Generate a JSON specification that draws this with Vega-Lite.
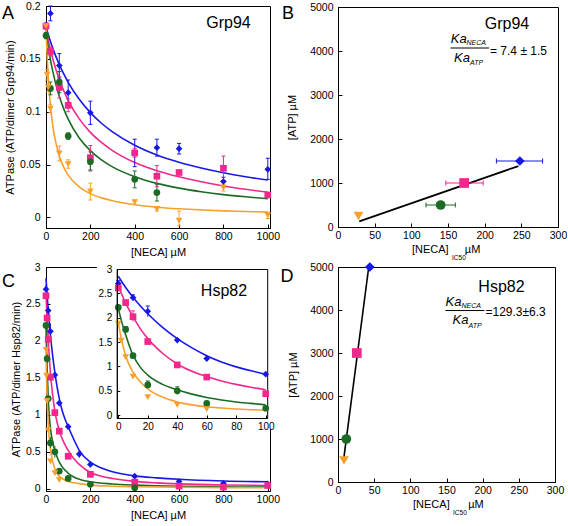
{
 "$schema": "https://vega.github.io/schema/vega-lite/v6.json",
 "background": "white",
 "padding": {"left": 2, "top": 1, "right": 0, "bottom": 0},
 "config": {
  "font": "Liberation Sans",
  "view": {"stroke": null},
  "range": {"category": ["#1717e8", "#f0288c", "#1c6b24", "#f7a02c"], "symbol": ["diamond", "square", "circle", "triangle-down"]},
  "axis": {"labelFont": "Liberation Sans", "titleFont": "Liberation Sans", "labelFontSize": 10.5, "titleFontSize": 11, "titleFontWeight": "normal", "labelColor": "#000", "titleColor": "#000", "domainColor": "#000", "tickColor": "#000", "grid": false, "tickSize": -4, "labelFlush": false, "labelOverlap": false, "domainWidth": 1, "tickWidth": 1}
 },
 "datasets": {
  "gA_pts": [
   {"s":"S1","x":0,"y":0.182},{"s":"S1","x":20,"y":0.193,"lo":0.186,"hi":0.2},{"s":"S1","x":60,"y":0.1436,"lo":0.132,"hi":0.155},{"s":"S1","x":100,"y":0.118,"lo":0.106,"hi":0.13},{"s":"S1","x":200,"y":0.099,"lo":0.088,"hi":0.11},{"s":"S1","x":400,"y":0.061,"lo":0.048,"hi":0.074},{"s":"S1","x":500,"y":0.066,"lo":0.058,"hi":0.074},{"s":"S1","x":600,"y":0.065,"lo":0.06,"hi":0.07},{"s":"S1","x":800,"y":0.034,"lo":0.03,"hi":0.038},{"s":"S1","x":1000,"y":0.0455,"lo":0.036,"hi":0.056},
   {"s":"S2","x":0,"y":0.181,"lo":0.178,"hi":0.184},{"s":"S2","x":20,"y":0.157,"lo":0.153,"hi":0.161},{"s":"S2","x":60,"y":0.123,"lo":0.113,"hi":0.133},{"s":"S2","x":100,"y":0.106,"lo":0.1,"hi":0.112},{"s":"S2","x":200,"y":0.0565,"lo":0.045,"hi":0.068},{"s":"S2","x":400,"y":0.061,"lo":0.057,"hi":0.065},{"s":"S2","x":500,"y":0.039,"lo":0.029,"hi":0.049},{"s":"S2","x":600,"y":0.0425,"lo":0.0405,"hi":0.0445},{"s":"S2","x":800,"y":0.0465,"lo":0.035,"hi":0.058},{"s":"S2","x":1000,"y":0.0213},
   {"s":"S3","x":0,"y":0.172,"lo":0.169,"hi":0.175},{"s":"S3","x":20,"y":0.122,"lo":0.116,"hi":0.128},{"s":"S3","x":60,"y":0.128,"lo":0.118,"hi":0.138},{"s":"S3","x":100,"y":0.077,"lo":0.074,"hi":0.08},{"s":"S3","x":200,"y":0.0527,"lo":0.044,"hi":0.062},{"s":"S3","x":400,"y":0.036,"lo":0.028,"hi":0.044},{"s":"S3","x":500,"y":0.0235,"lo":0.0155,"hi":0.0315},
   {"s":"S4","x":0,"y":0.181},{"s":"S4","x":5,"y":0.135,"lo":0.13,"hi":0.14},{"s":"S4","x":10,"y":0.123,"lo":0.119,"hi":0.127},{"s":"S4","x":20,"y":0.103,"lo":0.099,"hi":0.107},{"s":"S4","x":60,"y":0.0605,"lo":0.0535,"hi":0.0675},{"s":"S4","x":100,"y":0.0505,"lo":0.0465,"hi":0.0545},{"s":"S4","x":200,"y":0.0245,"lo":0.0165,"hi":0.0325},{"s":"S4","x":400,"y":0.0144,"lo":0.0124,"hi":0.0164},{"s":"S4","x":500,"y":0.008,"lo":0.006,"hi":0.01},{"s":"S4","x":600,"y":-0.003,"lo":-0.008,"hi":0.006},{"s":"S4","x":800,"y":0.028,"lo":0.025,"hi":0.031},{"s":"S4","x":1000,"y":0.002,"lo":-0.001,"hi":0.005}
  ],
  "gA_fit": [
   {"s":"S1","x":0,"y":0.18},{"s":"S1","x":10,"y":0.173},{"s":"S1","x":20,"y":0.1664},{"s":"S1","x":30,"y":0.1604},{"s":"S1","x":40,"y":0.1547},{"s":"S1","x":60,"y":0.1446},{"s":"S1","x":80,"y":0.1357},{"s":"S1","x":100,"y":0.1278},{"s":"S1","x":150,"y":0.1117},{"s":"S1","x":200,"y":0.0991},{"s":"S1","x":250,"y":0.0891},{"s":"S1","x":300,"y":0.081},{"s":"S1","x":400,"y":0.0683},{"s":"S1","x":500,"y":0.0591},{"s":"S1","x":600,"y":0.0522},{"s":"S1","x":700,"y":0.0467},{"s":"S1","x":800,"y":0.0422},{"s":"S1","x":900,"y":0.0385},{"s":"S1","x":1000,"y":0.0354},
   {"s":"S2","x":0,"y":0.178},{"s":"S2","x":10,"y":0.1678},{"s":"S2","x":20,"y":0.1588},{"s":"S2","x":30,"y":0.1506},{"s":"S2","x":40,"y":0.1433},{"s":"S2","x":60,"y":0.1305},{"s":"S2","x":80,"y":0.1198},{"s":"S2","x":100,"y":0.1108},{"s":"S2","x":150,"y":0.0932},{"s":"S2","x":200,"y":0.0805},{"s":"S2","x":250,"y":0.0709},{"s":"S2","x":300,"y":0.0632},{"s":"S2","x":400,"y":0.0519},{"s":"S2","x":500,"y":0.0442},{"s":"S2","x":600,"y":0.0384},{"s":"S2","x":700,"y":0.0337},{"s":"S2","x":800,"y":0.0298},{"s":"S2","x":900,"y":0.0266},{"s":"S2","x":1000,"y":0.0238},
   {"s":"S3","x":0,"y":0.176},{"s":"S3","x":10,"y":0.1616},{"s":"S3","x":20,"y":0.1493},{"s":"S3","x":30,"y":0.1388},{"s":"S3","x":40,"y":0.1297},{"s":"S3","x":60,"y":0.1146},{"s":"S3","x":80,"y":0.1027},{"s":"S3","x":100,"y":0.093},{"s":"S3","x":150,"y":0.0752},{"s":"S3","x":200,"y":0.0632},{"s":"S3","x":250,"y":0.0545},{"s":"S3","x":300,"y":0.0478},{"s":"S3","x":400,"y":0.0385},{"s":"S3","x":500,"y":0.0322},{"s":"S3","x":600,"y":0.0277},{"s":"S3","x":700,"y":0.0243},{"s":"S3","x":800,"y":0.0216},{"s":"S3","x":900,"y":0.0195},{"s":"S3","x":1000,"y":0.0177},
   {"s":"S4","x":0,"y":0.18},{"s":"S4","x":5,"y":0.153},{"s":"S4","x":10,"y":0.1334},{"s":"S4","x":20,"y":0.1059},{"s":"S4","x":30,"y":0.0878},{"s":"S4","x":40,"y":0.075},{"s":"S4","x":60,"y":0.0581},{"s":"S4","x":80,"y":0.0474},{"s":"S4","x":100,"y":0.04},{"s":"S4","x":150,"y":0.0289},{"s":"S4","x":200,"y":0.0225},{"s":"S4","x":250,"y":0.0185},{"s":"S4","x":300,"y":0.0157},{"s":"S4","x":400,"y":0.012},{"s":"S4","x":500,"y":0.0097},{"s":"S4","x":600,"y":0.0082},{"s":"S4","x":700,"y":0.0071},{"s":"S4","x":800,"y":0.0062},{"s":"S4","x":900,"y":0.0056},{"s":"S4","x":1000,"y":0.005}
  ],
  "cC_pts": [
   {"s":"S1","x":0,"y":2.7,"lo":2.64,"hi":2.76},{"s":"S1","x":10,"y":2.41,"lo":2.35,"hi":2.47},{"s":"S1","x":20,"y":2.13,"lo":2.02,"hi":2.24},{"s":"S1","x":40,"y":1.54,"lo":1.5,"hi":1.58},{"s":"S1","x":60,"y":1.16,"lo":1.12,"hi":1.2},{"s":"S1","x":100,"y":0.84,"lo":0.82,"hi":0.86},{"s":"S1","x":150,"y":0.47,"lo":0.42,"hi":0.52},{"s":"S1","x":200,"y":0.33,"lo":0.31,"hi":0.35},{"s":"S1","x":400,"y":0.17,"lo":0.15,"hi":0.19},{"s":"S1","x":600,"y":0.1,"lo":0.08,"hi":0.12},{"s":"S1","x":800,"y":0.075,"lo":0.06,"hi":0.09},{"s":"S1","x":1000,"y":0.065,"lo":0.05,"hi":0.08},
   {"s":"S2","x":0,"y":2.61,"lo":2.58,"hi":2.64},{"s":"S2","x":5,"y":2.31,"lo":2.27,"hi":2.35},{"s":"S2","x":10,"y":2.02,"lo":1.92,"hi":2.14},{"s":"S2","x":20,"y":1.51,"lo":1.46,"hi":1.56},{"s":"S2","x":40,"y":1.03,"lo":1.0,"hi":1.06},{"s":"S2","x":60,"y":0.78,"lo":0.76,"hi":0.8},{"s":"S2","x":100,"y":0.44,"lo":0.42,"hi":0.46},{"s":"S2","x":200,"y":0.195,"lo":0.18,"hi":0.21},{"s":"S2","x":400,"y":0.09,"lo":0.08,"hi":0.1},{"s":"S2","x":600,"y":0.036},{"s":"S2","x":800,"y":0.022},{"s":"S2","x":1000,"y":0.045},
   {"s":"S3","x":0,"y":2.21,"lo":2.17,"hi":2.25},{"s":"S3","x":5,"y":1.76,"lo":1.7,"hi":1.82},{"s":"S3","x":10,"y":1.22,"lo":1.18,"hi":1.26},{"s":"S3","x":20,"y":0.62,"lo":0.55,"hi":0.7},{"s":"S3","x":40,"y":0.5,"lo":0.42,"hi":0.58},{"s":"S3","x":60,"y":0.24,"lo":0.22,"hi":0.26},{"s":"S3","x":100,"y":0.14,"lo":0.13,"hi":0.15},{"s":"S3","x":200,"y":0.06,"lo":0.05,"hi":0.07},{"s":"S3","x":400,"y":0.015},
   {"s":"S4","x":0,"y":1.88,"lo":1.85,"hi":1.91},{"s":"S4","x":2,"y":1.53,"lo":1.5,"hi":1.56},{"s":"S4","x":5,"y":1.19,"lo":1.16,"hi":1.22},{"s":"S4","x":10,"y":0.79,"lo":0.76,"hi":0.82},{"s":"S4","x":20,"y":0.37,"lo":0.34,"hi":0.4},{"s":"S4","x":40,"y":0.21,"lo":0.19,"hi":0.23},{"s":"S4","x":60,"y":0.12,"lo":0.1,"hi":0.14}
  ],
  "cC_fit": [
   {"s":"S1","x":0,"y":2.85},{"s":"S1","x":5,"y":2.62},{"s":"S1","x":10,"y":2.42},{"s":"S1","x":15,"y":2.24},{"s":"S1","x":20,"y":2.08},{"s":"S1","x":30,"y":1.8},{"s":"S1","x":40,"y":1.57},{"s":"S1","x":50,"y":1.38},{"s":"S1","x":60,"y":1.22},{"s":"S1","x":70,"y":1.09},{"s":"S1","x":80,"y":0.99},{"s":"S1","x":90,"y":0.91},{"s":"S1","x":100,"y":0.84},{"s":"S1","x":125,"y":0.67},{"s":"S1","x":150,"y":0.52},{"s":"S1","x":200,"y":0.36},{"s":"S1","x":250,"y":0.28},{"s":"S1","x":300,"y":0.23},{"s":"S1","x":400,"y":0.175},{"s":"S1","x":500,"y":0.148},{"s":"S1","x":600,"y":0.128},{"s":"S1","x":800,"y":0.105},{"s":"S1","x":1000,"y":0.095},
   {"s":"S2","x":0,"y":2.65},{"s":"S2","x":5,"y":2.3},{"s":"S2","x":10,"y":2.02},{"s":"S2","x":15,"y":1.77},{"s":"S2","x":20,"y":1.57},{"s":"S2","x":30,"y":1.27},{"s":"S2","x":40,"y":1.05},{"s":"S2","x":50,"y":0.9},{"s":"S2","x":60,"y":0.79},{"s":"S2","x":70,"y":0.7},{"s":"S2","x":80,"y":0.63},{"s":"S2","x":90,"y":0.57},{"s":"S2","x":100,"y":0.52},{"s":"S2","x":125,"y":0.41},{"s":"S2","x":150,"y":0.33},{"s":"S2","x":200,"y":0.22},{"s":"S2","x":250,"y":0.17},{"s":"S2","x":300,"y":0.14},{"s":"S2","x":400,"y":0.1},{"s":"S2","x":500,"y":0.08},{"s":"S2","x":600,"y":0.067},{"s":"S2","x":800,"y":0.052},{"s":"S2","x":1000,"y":0.045},
   {"s":"S3","x":0,"y":2.2},{"s":"S3","x":2,"y":1.95},{"s":"S3","x":5,"y":1.65},{"s":"S3","x":10,"y":1.23},{"s":"S3","x":15,"y":0.98},{"s":"S3","x":20,"y":0.82},{"s":"S3","x":30,"y":0.63},{"s":"S3","x":40,"y":0.52},{"s":"S3","x":50,"y":0.43},{"s":"S3","x":60,"y":0.36},{"s":"S3","x":70,"y":0.31},{"s":"S3","x":80,"y":0.27},{"s":"S3","x":90,"y":0.24},{"s":"S3","x":100,"y":0.21},{"s":"S3","x":125,"y":0.16},{"s":"S3","x":150,"y":0.13},{"s":"S3","x":200,"y":0.095},{"s":"S3","x":300,"y":0.065},{"s":"S3","x":400,"y":0.05},{"s":"S3","x":500,"y":0.04},{"s":"S3","x":600,"y":0.035},{"s":"S3","x":800,"y":0.027},{"s":"S3","x":1000,"y":0.022},
   {"s":"S4","x":0,"y":1.9},{"s":"S4","x":2,"y":1.58},{"s":"S4","x":5,"y":1.22},{"s":"S4","x":10,"y":0.88},{"s":"S4","x":15,"y":0.68},{"s":"S4","x":20,"y":0.54},{"s":"S4","x":30,"y":0.37},{"s":"S4","x":40,"y":0.27},{"s":"S4","x":50,"y":0.21},{"s":"S4","x":60,"y":0.17},{"s":"S4","x":70,"y":0.145},{"s":"S4","x":80,"y":0.125},{"s":"S4","x":90,"y":0.11},{"s":"S4","x":100,"y":0.1},{"s":"S4","x":150,"y":0.07},{"s":"S4","x":200,"y":0.05},{"s":"S4","x":300,"y":0.035},{"s":"S4","x":400,"y":0.028},{"s":"S4","x":600,"y":0.02},{"s":"S4","x":800,"y":0.016},{"s":"S4","x":1000,"y":0.013}
  ],
  "b_pts": [
   {"s":"S1","x":248,"y":1500,"lo":216,"hi":279},{"s":"S2","x":172,"y":1000,"lo":147,"hi":198},{"s":"S3","x":140,"y":500,"lo":120,"hi":160},{"s":"S4","x":28,"y":250}
  ],
  "b_line": [{"x":29,"y":130},{"x":246,"y":1385}],
  "d_pts": [
   {"s":"S1","x":44,"y":5000},{"s":"S2","x":26,"y":3000},{"s":"S3","x":11.5,"y":1000},{"s":"S4","x":8.3,"y":500}
  ],
  "d_line": [{"x":7.8,"y":520},{"x":42.5,"y":5000}]
 },
 "columns": 2,
 "spacing": {"row": 39, "column": 68},
 "bounds": "flush",
 "center": true,
 "concat": [
  {
   "width": 224, "height": 222,
   "layer": [
    {"data": {"values": [{"x": 0, "x2": 1010, "y": -0.01, "y2": 0.2}]}, "mark": {"type": "rect", "fill": "transparent", "stroke": "black", "strokeWidth": 1, "xOffset": 0.5, "x2Offset": 0.5, "yOffset": 0.5, "y2Offset": 0.5},
     "encoding": {
      "x": {"field": "x", "type": "quantitative", "scale": {"domain": [0, 1010], "nice": false, "zero": false}, "axis": {"orient": "bottom", "values": [0, 200, 400, 600, 800, 1000], "format": "~r", "title": "[NECA] µM", "labelPadding": 7, "titlePadding": 5}},
      "x2": {"field": "x2"},
      "y": {"field": "y", "type": "quantitative", "scale": {"domain": [-0.01, 0.2], "nice": false, "zero": false}, "axis": {"orient": "left", "values": [0, 0.05, 0.1, 0.15, 0.2], "format": "~r", "title": "ATPase (ATP/dimer Grp94/min)", "labelPadding": 10, "titlePadding": 4}},
      "y2": {"field": "y2"}
     }},
    {"data": {"name": "gA_fit"}, "mark": {"type": "line", "interpolate": "monotone", "strokeWidth": 1.6},
     "encoding": {
      "x": {"field": "x", "type": "quantitative", "scale": {"domain": [0, 1010], "nice": false, "zero": false}, "axis": null},
      "y": {"field": "y", "type": "quantitative", "scale": {"domain": [-0.01, 0.2], "nice": false, "zero": false}, "axis": null},
      "color": {"field": "s", "type": "nominal", "legend": null}
     }},
    {"data": {"name": "gA_pts"}, "transform": [{"filter": "datum.hi > datum.lo"}], "mark": {"type": "rule", "strokeWidth": 1},
     "encoding": {
      "x": {"field": "x", "type": "quantitative", "scale": {"domain": [0, 1010], "nice": false, "zero": false}, "axis": null},
      "y": {"field": "lo", "type": "quantitative", "scale": {"domain": [-0.01, 0.2], "nice": false, "zero": false}, "axis": null},
      "y2": {"field": "hi"},
      "color": {"field": "s", "type": "nominal", "legend": null}
     }},
    {"data": {"name": "gA_pts"}, "transform": [{"filter": "datum.hi > datum.lo"}], "mark": {"type": "tick", "orient": "horizontal", "size": 4, "thickness": 1, "opacity": 1},
     "encoding": {
      "x": {"field": "x", "type": "quantitative", "scale": {"domain": [0, 1010], "nice": false, "zero": false}, "axis": null},
      "y": {"field": "lo", "type": "quantitative", "scale": {"domain": [-0.01, 0.2], "nice": false, "zero": false}, "axis": null},
      "color": {"field": "s", "type": "nominal", "legend": null}
     }},
    {"data": {"name": "gA_pts"}, "transform": [{"filter": "datum.hi > datum.lo"}], "mark": {"type": "tick", "orient": "horizontal", "size": 4, "thickness": 1, "opacity": 1},
     "encoding": {
      "x": {"field": "x", "type": "quantitative", "scale": {"domain": [0, 1010], "nice": false, "zero": false}, "axis": null},
      "y": {"field": "hi", "type": "quantitative", "scale": {"domain": [-0.01, 0.2], "nice": false, "zero": false}, "axis": null},
      "color": {"field": "s", "type": "nominal", "legend": null}
     }},
    {"data": {"name": "gA_pts"}, "mark": {"type": "point", "filled": true, "opacity": 1, "size": 45},
     "encoding": {
      "x": {"field": "x", "type": "quantitative", "scale": {"domain": [0, 1010], "nice": false, "zero": false}, "axis": null},
      "y": {"field": "y", "type": "quantitative", "scale": {"domain": [-0.01, 0.2], "nice": false, "zero": false}, "axis": null},
      "color": {"field": "s", "type": "nominal", "legend": null},
      "shape": {"field": "s", "type": "nominal", "legend": null}
     }},
    {"data": {"values": [{"t": "A", "x": -198, "y": 0.1877}]}, "mark": {"type": "text", "fontSize": 18, "align": "left", "baseline": "alphabetic"},
     "encoding": {"text": {"field": "t"}, "x": {"field": "x", "type": "quantitative", "scale": {"domain": [0, 1010], "nice": false, "zero": false}, "axis": null}, "y": {"field": "y", "type": "quantitative", "scale": {"domain": [-0.01, 0.2], "nice": false, "zero": false}, "axis": null}}},
    {"data": {"values": [{"t": "Grp94", "x": 823, "y": 0.179}]}, "mark": {"type": "text", "fontSize": 16, "align": "center", "baseline": "alphabetic"},
     "encoding": {"text": {"field": "t"}, "x": {"field": "x", "type": "quantitative", "scale": {"domain": [0, 1010], "nice": false, "zero": false}, "axis": null}, "y": {"field": "y", "type": "quantitative", "scale": {"domain": [-0.01, 0.2], "nice": false, "zero": false}, "axis": null}}}
   ],
   "resolve": {"scale": {"x": "independent", "y": "independent"}}
  },
  {
   "width": 220, "height": 220,
   "layer": [
    {"data": {"values": [{"x": 0, "x2": 300, "y": 0, "y2": 5000}]}, "mark": {"type": "rect", "fill": "transparent", "stroke": "black", "strokeWidth": 1, "xOffset": 0.5, "x2Offset": 0.5, "yOffset": 0.5, "y2Offset": 0.5},
     "encoding": {
      "x": {"field": "x", "type": "quantitative", "scale": {"domain": [0, 300], "nice": false, "zero": false}, "axis": {"orient": "bottom", "values": [0, 50, 100, 150, 200, 250, 300], "format": "~r", "title": null, "labelPadding": 7}},
      "x2": {"field": "x2"},
      "y": {"field": "y", "type": "quantitative", "scale": {"domain": [0, 5000], "nice": false, "zero": false}, "axis": {"orient": "left", "values": [0, 1000, 2000, 3000, 4000, 5000], "format": "~r", "title": "[ATP]  µM", "labelPadding": 9, "titlePadding": 12}},
      "y2": {"field": "y2"}
     }},
    {"data": {"name": "b_line"}, "mark": {"type": "line", "color": "black", "strokeWidth": 1.8},
     "encoding": {
      "x": {"field": "x", "type": "quantitative", "scale": {"domain": [0, 300], "nice": false, "zero": false}, "axis": null},
      "y": {"field": "y", "type": "quantitative", "scale": {"domain": [0, 5000], "nice": false, "zero": false}, "axis": null}
     }},
    {"data": {"name": "b_pts"}, "transform": [{"filter": "datum.hi > datum.lo"}], "mark": {"type": "rule", "strokeWidth": 1},
     "encoding": {
      "y": {"field": "y", "type": "quantitative", "scale": {"domain": [0, 5000], "nice": false, "zero": false}, "axis": null},
      "x": {"field": "lo", "type": "quantitative", "scale": {"domain": [0, 300], "nice": false, "zero": false}, "axis": null},
      "x2": {"field": "hi"},
      "color": {"field": "s", "type": "nominal", "legend": null}
     }},
    {"data": {"name": "b_pts"}, "transform": [{"filter": "datum.hi > datum.lo"}], "mark": {"type": "tick", "orient": "vertical", "size": 5, "thickness": 1, "opacity": 1},
     "encoding": {
      "y": {"field": "y", "type": "quantitative", "scale": {"domain": [0, 5000], "nice": false, "zero": false}, "axis": null},
      "x": {"field": "lo", "type": "quantitative", "scale": {"domain": [0, 300], "nice": false, "zero": false}, "axis": null},
      "color": {"field": "s", "type": "nominal", "legend": null}
     }},
    {"data": {"name": "b_pts"}, "transform": [{"filter": "datum.hi > datum.lo"}], "mark": {"type": "tick", "orient": "vertical", "size": 5, "thickness": 1, "opacity": 1},
     "encoding": {
      "y": {"field": "y", "type": "quantitative", "scale": {"domain": [0, 5000], "nice": false, "zero": false}, "axis": null},
      "x": {"field": "hi", "type": "quantitative", "scale": {"domain": [0, 300], "nice": false, "zero": false}, "axis": null},
      "color": {"field": "s", "type": "nominal", "legend": null}
     }},
    {"data": {"name": "b_pts"}, "mark": {"type": "point", "filled": true, "opacity": 1, "size": 95},
     "encoding": {
      "x": {"field": "x", "type": "quantitative", "scale": {"domain": [0, 300], "nice": false, "zero": false}, "axis": null},
      "y": {"field": "y", "type": "quantitative", "scale": {"domain": [0, 5000], "nice": false, "zero": false}, "axis": null},
      "color": {"field": "s", "type": "nominal", "legend": null},
      "shape": {"field": "s", "type": "nominal", "legend": null}
     }},
    {"data": {"values": [{"t": "B", "x": -76.4, "y": 4727}]}, "mark": {"type": "text", "fontSize": 18, "align": "left", "baseline": "alphabetic"},
     "encoding": {"text": {"field": "t"}, "x": {"field": "x", "type": "quantitative", "scale": {"domain": [0, 300], "nice": false, "zero": false}, "axis": null}, "y": {"field": "y", "type": "quantitative", "scale": {"domain": [0, 5000], "nice": false, "zero": false}, "axis": null}}},
    {"data": {"values": [{"t": "Grp94", "x": 230.5, "y": 4500}]}, "mark": {"type": "text", "fontSize": 16, "align": "center", "baseline": "alphabetic"},
     "encoding": {"text": {"field": "t"}, "x": {"field": "x", "type": "quantitative", "scale": {"domain": [0, 300], "nice": false, "zero": false}, "axis": null}, "y": {"field": "y", "type": "quantitative", "scale": {"domain": [0, 5000], "nice": false, "zero": false}, "axis": null}}},
    {"data": {"values": [{"t": "Ka", "x": 153.7, "y": 4182}, {"t": "Ka", "x": 158.2, "y": 3750}]}, "mark": {"type": "text", "fontSize": 13, "fontStyle": "italic", "align": "left", "baseline": "alphabetic"},
     "encoding": {"text": {"field": "t"}, "x": {"field": "x", "type": "quantitative", "scale": {"domain": [0, 300], "nice": false, "zero": false}, "axis": null}, "y": {"field": "y", "type": "quantitative", "scale": {"domain": [0, 5000], "nice": false, "zero": false}, "axis": null}}},
    {"data": {"values": [{"t": "NECA", "x": 175.2, "y": 4136}, {"t": "ATP", "x": 180, "y": 3682}]}, "mark": {"type": "text", "fontSize": 7, "fontStyle": "italic", "align": "left", "baseline": "alphabetic"},
     "encoding": {"text": {"field": "t"}, "x": {"field": "x", "type": "quantitative", "scale": {"domain": [0, 300], "nice": false, "zero": false}, "axis": null}, "y": {"field": "y", "type": "quantitative", "scale": {"domain": [0, 5000], "nice": false, "zero": false}, "axis": null}}},
    {"data": {"values": [{"x": 153.4, "x2": 205.9, "y": 4068}]}, "mark": {"type": "rule", "color": "black", "strokeWidth": 1},
     "encoding": {"x": {"field": "x", "type": "quantitative", "scale": {"domain": [0, 300], "nice": false, "zero": false}, "axis": null}, "x2": {"field": "x2"}, "y": {"field": "y", "type": "quantitative", "scale": {"domain": [0, 5000], "nice": false, "zero": false}, "axis": null}}},
    {"data": {"values": [{"t": "= 7.4 ± 1.5", "x": 207.3, "y": 3909}]}, "mark": {"type": "text", "fontSize": 12, "align": "left", "baseline": "alphabetic"},
     "encoding": {"text": {"field": "t"}, "x": {"field": "x", "type": "quantitative", "scale": {"domain": [0, 300], "nice": false, "zero": false}, "axis": null}, "y": {"field": "y", "type": "quantitative", "scale": {"domain": [0, 5000], "nice": false, "zero": false}, "axis": null}}},
    {"data": {"values": [{"t": "[NECA]", "x": 100.9, "y": -591}, {"t": "µM", "x": 173, "y": -591}]}, "mark": {"type": "text", "fontSize": 11, "align": "left", "baseline": "alphabetic"},
     "encoding": {"text": {"field": "t"}, "x": {"field": "x", "type": "quantitative", "scale": {"domain": [0, 300], "nice": false, "zero": false}, "axis": null}, "y": {"field": "y", "type": "quantitative", "scale": {"domain": [0, 5000], "nice": false, "zero": false}, "axis": null}}},
    {"data": {"values": [{"t": "IC50", "x": 155.5, "y": -750}]}, "mark": {"type": "text", "fontSize": 6.5, "align": "left", "baseline": "alphabetic"},
     "encoding": {"text": {"field": "t"}, "x": {"field": "x", "type": "quantitative", "scale": {"domain": [0, 300], "nice": false, "zero": false}, "axis": null}, "y": {"field": "y", "type": "quantitative", "scale": {"domain": [0, 5000], "nice": false, "zero": false}, "axis": null}}}
   ],
   "resolve": {"scale": {"x": "independent", "y": "independent"}}
  },
  {
   "width": 224, "height": 224,
   "layer": [
    {"data": {"values": [{"x": 0, "x2": 1010, "y": -0.03, "y2": 3}]}, "mark": {"type": "rect", "fill": "transparent", "stroke": "black", "strokeWidth": 1, "xOffset": 0.5, "x2Offset": 0.5, "yOffset": 0.5, "y2Offset": 0.5},
     "encoding": {
      "x": {"field": "x", "type": "quantitative", "scale": {"domain": [0, 1010], "nice": false, "zero": false}, "axis": {"orient": "bottom", "values": [0, 200, 400, 600, 800, 1000], "format": "~r", "title": "[NECA] µM", "labelPadding": 7, "titlePadding": 5}},
      "x2": {"field": "x2"},
      "y": {"field": "y", "type": "quantitative", "scale": {"domain": [-0.03, 3], "nice": false, "zero": false}, "axis": {"orient": "left", "values": [0, 0.5, 1, 1.5, 2, 2.5, 3], "format": "~r", "title": "ATPase (ATP/dimer Hsp82/min)", "labelPadding": 10, "titlePadding": 4}},
      "y2": {"field": "y2"}
     }},
    {"data": {"name": "cC_fit"}, "mark": {"type": "line", "interpolate": "monotone", "strokeWidth": 1.6},
     "encoding": {
      "x": {"field": "x", "type": "quantitative", "scale": {"domain": [0, 1010], "nice": false, "zero": false}, "axis": null},
      "y": {"field": "y", "type": "quantitative", "scale": {"domain": [-0.03, 3], "nice": false, "zero": false}, "axis": null},
      "color": {"field": "s", "type": "nominal", "legend": null}
     }},
    {"data": {"name": "cC_pts"}, "transform": [{"filter": "datum.hi > datum.lo"}], "mark": {"type": "rule", "strokeWidth": 1},
     "encoding": {
      "x": {"field": "x", "type": "quantitative", "scale": {"domain": [0, 1010], "nice": false, "zero": false}, "axis": null},
      "y": {"field": "lo", "type": "quantitative", "scale": {"domain": [-0.03, 3], "nice": false, "zero": false}, "axis": null},
      "y2": {"field": "hi"},
      "color": {"field": "s", "type": "nominal", "legend": null}
     }},
    {"data": {"name": "cC_pts"}, "mark": {"type": "point", "filled": true, "opacity": 1, "size": 45},
     "encoding": {
      "x": {"field": "x", "type": "quantitative", "scale": {"domain": [0, 1010], "nice": false, "zero": false}, "axis": null},
      "y": {"field": "y", "type": "quantitative", "scale": {"domain": [-0.03, 3], "nice": false, "zero": false}, "axis": null},
      "color": {"field": "s", "type": "nominal", "legend": null},
      "shape": {"field": "s", "type": "nominal", "legend": null}
     }},
    {"data": {"values": [{"t": "C", "x": -198, "y": 2.73}]}, "mark": {"type": "text", "fontSize": 18, "align": "left", "baseline": "alphabetic"},
     "encoding": {"text": {"field": "t"}, "x": {"field": "x", "type": "quantitative", "scale": {"domain": [0, 1010], "nice": false, "zero": false}, "axis": null}, "y": {"field": "y", "type": "quantitative", "scale": {"domain": [-0.03, 3], "nice": false, "zero": false}, "axis": null}}},
    {"data": {"values": [{"x": -14.5, "x2": 103.6, "y": 3.1, "y2": -0.29}]}, "mark": {"type": "rect", "fill": "white"},
     "encoding": {
      "x": {"field": "x", "type": "quantitative", "scale": {"domain": [-1, 101], "range": [70.8, 221.2], "nice": false, "zero": false}, "axis": null},
      "x2": {"field": "x2"},
      "y": {"field": "y", "type": "quantitative", "scale": {"domain": [-0.06, 3], "range": [151, 2], "nice": false, "zero": false}, "axis": null},
      "y2": {"field": "y2"}
     }},
    {"data": {"values": [{"x": -1, "x2": 101, "y": -0.06, "y2": 3}]}, "mark": {"type": "rect", "fill": "transparent", "stroke": "black", "strokeWidth": 1, "xOffset": 0.5, "x2Offset": 0.5, "yOffset": 0.5, "y2Offset": 0.5},
     "encoding": {
      "x": {"field": "x", "type": "quantitative", "scale": {"domain": [-1, 101], "range": [70.8, 221.2], "nice": false, "zero": false}, "axis": {"orient": "bottom", "offset": -73, "values": [0, 20, 40, 60, 80, 100], "format": "~r", "title": null, "zindex": 1, "tickSize": -3, "labelPadding": 6, "labelFontSize": 10}},
      "x2": {"field": "x2"},
      "y": {"field": "y", "type": "quantitative", "scale": {"domain": [-0.06, 3], "range": [151, 2], "nice": false, "zero": false}, "axis": {"orient": "left", "offset": -70.8, "values": [0, 0.5, 1, 1.5, 2, 2.5, 3], "format": "~r", "title": null, "zindex": 1, "tickSize": -3, "labelPadding": 8, "labelFontSize": 10}},
      "y2": {"field": "y2"}
     }},
    {"data": {"name": "cC_fit"}, "transform": [{"filter": "datum.x <= 100"}], "mark": {"type": "line", "interpolate": "monotone", "strokeWidth": 1.6},
     "encoding": {
      "x": {"field": "x", "type": "quantitative", "scale": {"domain": [-1, 101], "range": [70.8, 221.2], "nice": false, "zero": false}, "axis": null},
      "y": {"field": "y", "type": "quantitative", "scale": {"domain": [-0.06, 3], "range": [151, 2], "nice": false, "zero": false}, "axis": null},
      "color": {"field": "s", "type": "nominal", "legend": null}
     }},
    {"data": {"name": "cC_pts"}, "transform": [{"filter": "datum.x <= 100 && datum.hi > datum.lo"}], "mark": {"type": "rule", "strokeWidth": 1},
     "encoding": {
      "x": {"field": "x", "type": "quantitative", "scale": {"domain": [-1, 101], "range": [70.8, 221.2], "nice": false, "zero": false}, "axis": null},
      "y": {"field": "lo", "type": "quantitative", "scale": {"domain": [-0.06, 3], "range": [151, 2], "nice": false, "zero": false}, "axis": null},
      "y2": {"field": "hi"},
      "color": {"field": "s", "type": "nominal", "legend": null}
     }},
    {"data": {"name": "cC_pts"}, "transform": [{"filter": "datum.x <= 100 && datum.hi - datum.lo > 0.1"}], "mark": {"type": "tick", "orient": "horizontal", "size": 4, "thickness": 1, "opacity": 1},
     "encoding": {
      "x": {"field": "x", "type": "quantitative", "scale": {"domain": [-1, 101], "range": [70.8, 221.2], "nice": false, "zero": false}, "axis": null},
      "y": {"field": "hi", "type": "quantitative", "scale": {"domain": [-0.06, 3], "range": [151, 2], "nice": false, "zero": false}, "axis": null},
      "color": {"field": "s", "type": "nominal", "legend": null}
     }},
    {"data": {"name": "cC_pts"}, "transform": [{"filter": "datum.x <= 100"}], "mark": {"type": "point", "filled": true, "opacity": 1, "size": 45},
     "encoding": {
      "x": {"field": "x", "type": "quantitative", "scale": {"domain": [-1, 101], "range": [70.8, 221.2], "nice": false, "zero": false}, "axis": null},
      "y": {"field": "y", "type": "quantitative", "scale": {"domain": [-0.06, 3], "range": [151, 2], "nice": false, "zero": false}, "axis": null},
      "color": {"field": "s", "type": "nominal", "legend": null},
      "shape": {"field": "s", "type": "nominal", "legend": null}
     }},
    {"data": {"values": [{"t": "Hsp82", "x": 71.7, "y": 2.44}]}, "mark": {"type": "text", "fontSize": 16, "align": "center", "baseline": "alphabetic"},
     "encoding": {"text": {"field": "t"}, "x": {"field": "x", "type": "quantitative", "scale": {"domain": [-1, 101], "range": [70.8, 221.2], "nice": false, "zero": false}, "axis": null}, "y": {"field": "y", "type": "quantitative", "scale": {"domain": [-0.06, 3], "range": [151, 2], "nice": false, "zero": false}, "axis": null}}}
   ],
   "resolve": {"scale": {"x": "independent", "y": "independent"}}
  },
  {
   "width": 217, "height": 215,
   "layer": [
    {"data": {"values": [{"x": 0, "x2": 300, "y": 0, "y2": 5000}]}, "mark": {"type": "rect", "fill": "transparent", "stroke": "black", "strokeWidth": 1, "xOffset": 0.5, "x2Offset": 0.5, "yOffset": 0.5, "y2Offset": 0.5},
     "encoding": {
      "x": {"field": "x", "type": "quantitative", "scale": {"domain": [0, 300], "nice": false, "zero": false}, "axis": {"orient": "bottom", "values": [0, 50, 100, 150, 200, 250, 300], "format": "~r", "title": null, "labelPadding": 7}},
      "x2": {"field": "x2"},
      "y": {"field": "y", "type": "quantitative", "scale": {"domain": [0, 5000], "nice": false, "zero": false}, "axis": {"orient": "left", "values": [0, 1000, 2000, 3000, 4000, 5000], "format": "~r", "title": "[ATP]  µM", "labelPadding": 9, "titlePadding": 11}},
      "y2": {"field": "y2"}
     }},
    {"data": {"name": "d_line"}, "mark": {"type": "line", "color": "black", "strokeWidth": 1.6},
     "encoding": {
      "x": {"field": "x", "type": "quantitative", "scale": {"domain": [0, 300], "nice": false, "zero": false}, "axis": null},
      "y": {"field": "y", "type": "quantitative", "scale": {"domain": [0, 5000], "nice": false, "zero": false}, "axis": null}
     }},
    {"data": {"name": "d_pts"}, "mark": {"type": "point", "filled": true, "opacity": 1, "size": 95},
     "encoding": {
      "x": {"field": "x", "type": "quantitative", "scale": {"domain": [0, 300], "nice": false, "zero": false}, "axis": null},
      "y": {"field": "y", "type": "quantitative", "scale": {"domain": [0, 5000], "nice": false, "zero": false}, "axis": null},
      "color": {"field": "s", "type": "nominal", "legend": null},
      "shape": {"field": "s", "type": "nominal", "legend": null}
     }},
    {"data": {"values": [{"t": "D", "x": -79.5, "y": 4640}]}, "mark": {"type": "text", "fontSize": 18, "align": "left", "baseline": "alphabetic"},
     "encoding": {"text": {"field": "t"}, "x": {"field": "x", "type": "quantitative", "scale": {"domain": [0, 300], "nice": false, "zero": false}, "axis": null}, "y": {"field": "y", "type": "quantitative", "scale": {"domain": [0, 5000], "nice": false, "zero": false}, "axis": null}}},
    {"data": {"values": [{"t": "Hsp82", "x": 226, "y": 4430}]}, "mark": {"type": "text", "fontSize": 16, "align": "center", "baseline": "alphabetic"},
     "encoding": {"text": {"field": "t"}, "x": {"field": "x", "type": "quantitative", "scale": {"domain": [0, 300], "nice": false, "zero": false}, "axis": null}, "y": {"field": "y", "type": "quantitative", "scale": {"domain": [0, 5000], "nice": false, "zero": false}, "axis": null}}},
    {"data": {"values": [{"t": "Ka", "x": 148.6, "y": 4104}, {"t": "Ka", "x": 158.3, "y": 3663}]}, "mark": {"type": "text", "fontSize": 13, "fontStyle": "italic", "align": "left", "baseline": "alphabetic"},
     "encoding": {"text": {"field": "t"}, "x": {"field": "x", "type": "quantitative", "scale": {"domain": [0, 300], "nice": false, "zero": false}, "axis": null}, "y": {"field": "y", "type": "quantitative", "scale": {"domain": [0, 5000], "nice": false, "zero": false}, "axis": null}}},
    {"data": {"values": [{"t": "NECA", "x": 170.7, "y": 4058}, {"t": "ATP", "x": 180.4, "y": 3593}]}, "mark": {"type": "text", "fontSize": 7, "fontStyle": "italic", "align": "left", "baseline": "alphabetic"},
     "encoding": {"text": {"field": "t"}, "x": {"field": "x", "type": "quantitative", "scale": {"domain": [0, 300], "nice": false, "zero": false}, "axis": null}, "y": {"field": "y", "type": "quantitative", "scale": {"domain": [0, 5000], "nice": false, "zero": false}, "axis": null}}},
    {"data": {"values": [{"x": 148.6, "x2": 202.5, "y": 3988}]}, "mark": {"type": "rule", "color": "black", "strokeWidth": 1},
     "encoding": {"x": {"field": "x", "type": "quantitative", "scale": {"domain": [0, 300], "nice": false, "zero": false}, "axis": null}, "x2": {"field": "x2"}, "y": {"field": "y", "type": "quantitative", "scale": {"domain": [0, 5000], "nice": false, "zero": false}, "axis": null}}},
    {"data": {"values": [{"t": "=129.3±6.3", "x": 203.9, "y": 3849}]}, "mark": {"type": "text", "fontSize": 12, "align": "left", "baseline": "alphabetic"},
     "encoding": {"text": {"field": "t"}, "x": {"field": "x", "type": "quantitative", "scale": {"domain": [0, 300], "nice": false, "zero": false}, "axis": null}, "y": {"field": "y", "type": "quantitative", "scale": {"domain": [0, 5000], "nice": false, "zero": false}, "axis": null}}},
    {"data": {"values": [{"t": "[NECA]", "x": 103.7, "y": -605}, {"t": "µM", "x": 180, "y": -605}]}, "mark": {"type": "text", "fontSize": 11, "align": "left", "baseline": "alphabetic"},
     "encoding": {"text": {"field": "t"}, "x": {"field": "x", "type": "quantitative", "scale": {"domain": [0, 300], "nice": false, "zero": false}, "axis": null}, "y": {"field": "y", "type": "quantitative", "scale": {"domain": [0, 5000], "nice": false, "zero": false}, "axis": null}}},
    {"data": {"values": [{"t": "IC50", "x": 159, "y": -767}]}, "mark": {"type": "text", "fontSize": 6.5, "align": "left", "baseline": "alphabetic"},
     "encoding": {"text": {"field": "t"}, "x": {"field": "x", "type": "quantitative", "scale": {"domain": [0, 300], "nice": false, "zero": false}, "axis": null}, "y": {"field": "y", "type": "quantitative", "scale": {"domain": [0, 5000], "nice": false, "zero": false}, "axis": null}}}
   ],
   "resolve": {"scale": {"x": "independent", "y": "independent"}}
  }
 ]
}
